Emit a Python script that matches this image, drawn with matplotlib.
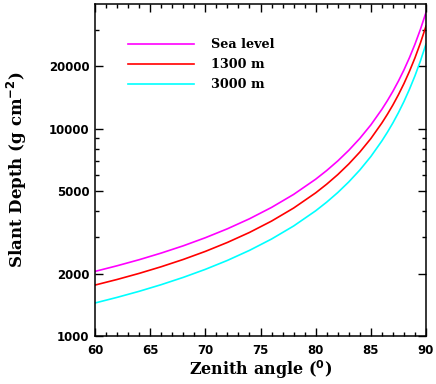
import matplotlib
matplotlib.use("Agg")
import matplotlib.pyplot as plt
from matplotlib.ticker import FixedLocator, FixedFormatter, MultipleLocator, NullFormatter

# Zenith angles (degrees)
angles = [60, 62, 64, 66, 68, 70, 72, 74, 76, 78, 80, 81, 82, 83, 84, 85,
          86, 86.5, 87, 87.5, 88, 88.5, 89, 89.5, 90]

# Slant depth (g cm^-2)
sea_level = [2050, 2182, 2334, 2513, 2724, 2980, 3291, 3678, 4173, 4821, 5709,
             6288, 6992, 7870, 8982, 10434, 12412, 13668, 15162, 16985, 19220,
             22032, 25596, 30241, 36421]
m1300 = [1761, 1874, 2005, 2159, 2341, 2560, 2828, 3160, 3585, 4143, 4906,
         5403, 6007, 6762, 7717, 8965, 10664, 11744, 13027, 14594, 16514,
         18930, 21992, 25984, 31294]
m3000 = [1443, 1536, 1643, 1769, 1918, 2097, 2316, 2589, 2937, 3394, 4019,
         4426, 4921, 5540, 6322, 7344, 8736, 9621, 10672, 11955, 13529,
         15508, 18016, 21286, 25636]

series_labels = ["Sea level", "1300 m", "3000 m"]
series_colors = ["#ff00ff", "#ff0000", "#00ffff"]

y_major = [1000, 2000, 5000, 10000, 20000]
y_major_labels = ["1000", "2000", "5000", "10000", "20000"]
y_minor = [3000, 4000, 6000, 7000, 8000, 9000, 30000]

fig = plt.figure(figsize=(4.36, 3.84), dpi=100)
ax = fig.add_axes([95/436, 48/384, 331/436, 332/384])

for vals, lab, col in zip([sea_level, m1300, m3000], series_labels, series_colors):
    ax.plot(angles, vals, color=col, lw=1.2, label=lab)

ax.set_yscale("log")
ax.set_xlim(60, 90)
ax.set_ylim(1000, 40000)

ax.yaxis.set_major_locator(FixedLocator(y_major))
ax.yaxis.set_major_formatter(FixedFormatter(y_major_labels))
ax.yaxis.set_minor_locator(FixedLocator(y_minor))
ax.yaxis.set_minor_formatter(NullFormatter())
ax.xaxis.set_major_locator(MultipleLocator(5))
ax.xaxis.set_minor_locator(MultipleLocator(1))

for s in ax.spines.values():
    s.set_linewidth(1.1)

ax.tick_params(which="both", direction="in", top=True, right=True, width=1.0)
ax.tick_params(which="major", length=6)
ax.tick_params(which="minor", length=3)
ax.tick_params(axis="y", which="major", pad=4)
ax.tick_params(axis="x", which="major", pad=6)
for lbl in ax.get_xticklabels() + ax.get_yticklabels():
    lbl.set_fontfamily("DejaVu Sans")
    lbl.set_fontweight("bold")
    lbl.set_fontsize(8.5)

ax.set_xlabel(r"Zenith angle ($\mathbf{^0}$)", fontfamily="DejaVu Serif", fontweight="bold",
              fontsize=11.5, labelpad=1)
ax.set_ylabel(r"Slant Depth (g cm$\mathbf{^{-2}}$)", fontfamily="DejaVu Serif", fontweight="bold",
              fontsize=12, labelpad=14)

leg = ax.legend(loc="upper left", bbox_to_anchor=(0.099, 0.897), frameon=False,
                borderpad=0, borderaxespad=0, handlelength=5.2, handletextpad=1.3,
                labelspacing=0.55,
                prop={"family": "DejaVu Serif", "size": 9.2, "weight": "bold"})

fig.savefig("out.png", dpi=100)
